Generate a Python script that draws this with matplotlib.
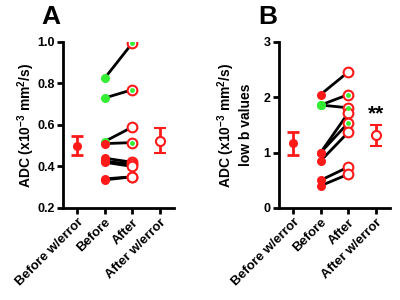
import numpy as np
import matplotlib
matplotlib.use('Agg')
import matplotlib.pyplot as plt

plt.rcParams['font.family'] = ['Liberation Sans', 'DejaVu Sans']
plt.rcParams['font.weight'] = 'bold'
plt.rcParams['mathtext.fontset'] = 'custom'
plt.rcParams['mathtext.rm'] = 'Liberation Sans:bold'
plt.rcParams['mathtext.bf'] = 'Liberation Sans:bold'
plt.rcParams['mathtext.default'] = 'rm'

categories = ['Before w/error', 'Before', 'After', 'After w/error']

# panel A
a_before = [0.825, 0.73, 0.52, 0.51, 0.44, 0.425, 0.42, 0.335, 0.34]
a_after = [0.995, 0.77, 0.59, 0.515, 0.42, 0.41, 0.40, 0.35, 0.35]
a_before_green = [True, True, True, False, False, False, False, False, False]
a_after_green = [True, True, False, True, False, False, False, False, False]
a_mean = [0.50, 0.525]
a_err = [0.046, 0.06]

# panel B
b_before = [2.05, 1.86, 1.86, 1.0, 1.0, 0.85, 0.5, 0.4]
b_after = [2.46, 2.05, 1.81, 1.72, 1.54, 1.37, 0.74, 0.61]
b_before_green = [False, True, True, False, False, False, False, False]
b_after_green = [False, True, True, False, True, False, False, False]
b_mean = [1.17, 1.31]
b_err = [0.205, 0.19]

RED = '#ff1a1a'
GREEN = '#33ee33'


def draw_panel(ax, before, after, bgreen, agreen, mean, err, ylim, yticks, ylabel, letter, labx):
    for b, a in zip(before, after):
        ax.plot([1, 2], [b, a], color='black', lw=2, zorder=2)
    for b, g in zip(before, bgreen):
        ax.plot(1, b, 'o', color=GREEN if g else RED, ms=6.5, mec='none', zorder=3)
    for a, g in zip(after, agreen):
        ax.plot(2, a, 'o', mfc='white', mec=RED, mew=1.5, ms=7, zorder=3)
        if g:
            ax.plot(2, a, 'o', color=GREEN, ms=3.5, mec='none', zorder=4)
    ax.errorbar(0, mean[0], yerr=err[0], fmt='o', color=RED, ms=5.5, capsize=4,
                elinewidth=2, capthick=2, zorder=3)
    ax.errorbar(3, mean[1], yerr=err[1], fmt='o', color=RED, mfc='white', mew=1.5,
                ms=6.5, capsize=4, elinewidth=2, capthick=2, zorder=3)
    ax.set_xlim(-0.5, 3.5)
    ax.set_ylim(*ylim)
    ax.set_yticks(yticks)
    ax.set_xticks(range(4))
    ax.set_xticklabels(categories, rotation=45, ha='right', rotation_mode='anchor',
                       fontsize=9.5, fontweight='bold')
    for t in ax.get_yticklabels():
        t.set_fontsize(9)
        t.set_fontweight('bold')
    ax.set_ylabel(ylabel, fontsize=10, fontweight='bold')
    ax.yaxis.set_label_coords(labx, 0.5)
    for s in ['top', 'right']:
        ax.spines[s].set_visible(False)
    for s in ['left', 'bottom']:
        ax.spines[s].set_linewidth(2)
    ax.tick_params(width=2, length=4, pad=2)
    ax.text(-0.02, 1.08, letter, transform=ax.transAxes, fontsize=19,
            fontweight='bold', ha='right', va='bottom')


fig = plt.figure(figsize=(4, 3), dpi=100)
ax1 = fig.add_axes([0.1575, 0.307, 0.2775, 0.553])
ax2 = fig.add_axes([0.6975, 0.307, 0.2775, 0.553])

draw_panel(ax1, a_before, a_after, a_before_green, a_after_green, a_mean, a_err,
           (0.2, 1.0), [0.2, 0.4, 0.6, 0.8, 1.0],
           'ADC (x10$^{-3}$ mm$^{2}$/s)', 'A', -0.23)
ax1.set_yticklabels(['0.2', '0.4', '0.6', '0.8', '1.0'])
draw_panel(ax2, b_before, b_after, b_before_green, b_after_green, b_mean, b_err,
           (0, 3), [0, 1, 2, 3],
           'ADC (x10$^{-3}$ mm$^{2}$/s)\nlow b values', 'B', -0.235)
ax2.text(3, b_mean[1] + b_err[1] + 0.02, '**', ha='center', va='bottom',
         fontsize=15, fontweight='bold')

fig.savefig('out.png', dpi=100)
